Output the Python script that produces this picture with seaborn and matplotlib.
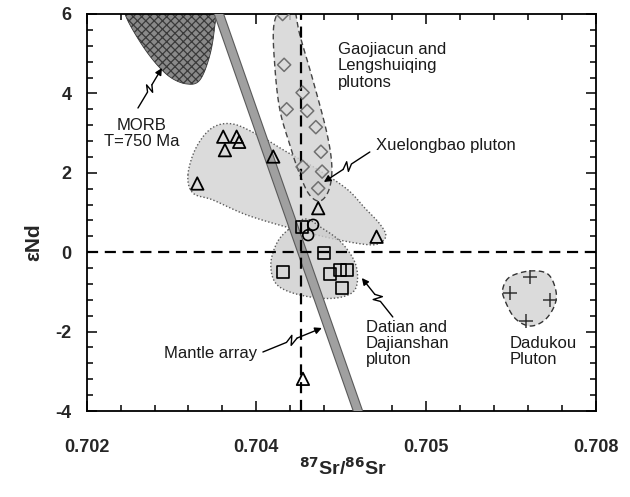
import numpy as np
import pandas as pd
import matplotlib
matplotlib.use("Agg")
import matplotlib.pyplot as plt
import matplotlib.patheffects as pe
from matplotlib.patches import Polygon
from matplotlib.ticker import MultipleLocator
import seaborn as sns

# ---------------- data ----------------
# Gaojiacun and Lengshuiqing plutons (diamonds)
gao_x = [0.704155, 0.704164, 0.704273, 0.704179, 0.704300, 0.704351, 0.704381, 0.704273, 0.704388, 0.704365]
gao_y = [6.00, 4.72, 4.02, 3.60, 3.56, 3.15, 2.53, 2.15, 2.03, 1.61]
# Xuelongbao pluton (triangles)
xue_x = [0.703805, 0.703884, 0.703899, 0.703815, 0.704100, 0.703652, 0.704365, 0.704709, 0.704275]
xue_y = [2.91, 2.91, 2.78, 2.57, 2.41, 1.73, 1.11, 0.39, -3.19]
# circles
cir_x = [0.704335, 0.704306]
cir_y = [0.69, 0.43]
# Datian and Dajianshan pluton (squares)
dat_x = [0.704271, 0.704398, 0.704159, 0.704434, 0.704493, 0.704532, 0.704506]
dat_y = [0.64, -0.01, -0.49, -0.56, -0.45, -0.45, -0.91]
# Dadukou pluton (crosses)
dad_x = [0.705612, 0.705494, 0.705730, 0.705589]
dad_y = [-0.62, -1.02, -1.20, -1.73]

# field outlines (control points)
gao_fx = [0.7041627, 0.7042216, 0.7042569, 0.7043335, 0.704416, 0.7044455, 0.7044278, 0.7043748,
          0.70431, 0.704251, 0.704198, 0.7041391, 0.7041096, 0.7041037]
gao_fy = [6.252, 6.151, 5.471, 4.338, 3.003, 2.146, 1.567, 1.290, 1.466, 2.020, 2.700, 3.582, 4.665, 5.723]
xue_fx = [0.7035969, 0.7036441, 0.7037384, 0.7038621, 0.7040212, 0.7041803, 0.7043571, 0.7045339,
          0.70464, 0.7047284, 0.7047637, 0.7047166, 0.7046223, 0.7044337, 0.704198, 0.7039446,
          0.7037443, 0.7036264]
xue_fy = [1.945, 2.625, 3.128, 3.229, 2.927, 2.524, 2.096, 1.592, 1.113, 0.710, 0.408, 0.207,
          0.207, 0.358, 0.610, 0.937, 1.315, 1.491]
dat_fx = [0.7041862, 0.7042864, 0.7043866, 0.7045044, 0.7045869, 0.7045869, 0.7045044, 0.704363,
          0.704198, 0.7041096, 0.704086, 0.7041214]
dat_fy = [0.559, 0.836, 0.610, 0.232, -0.322, -0.902, -1.128, -1.154, -1.003, -0.751, -0.272, 0.232]
dad_fx = [0.7056123, 0.7057184, 0.7057655, 0.7057596, 0.7057007, 0.7056123, 0.7055239, 0.705465,
          0.7054532, 0.7054944]
dad_fy = [-0.474, -0.549, -0.952, -1.330, -1.708, -1.859, -1.657, -1.204, -0.927, -0.625]
morb_fx = [0.70349, 0.703208, 0.7032257, 0.7032964, 0.7033907, 0.7034909, 0.703591, 0.7036677,
           0.7037266, 0.703756, 0.7037678]
morb_fy = [6.9, 6.5, 6.0, 5.421, 4.841, 4.413, 4.237, 4.338, 4.967, 5.723, 6.5]

mantle_x = [0.703755, 0.704624]
mantle_y = [6.3, -4.3]
bulk_sr = 0.704263
bulk_nd = 0.0

x_ticks = [0.703, 0.704, 0.705, 0.706]
x_ticklabels = ["0.702", "0.704", "0.705", "0.708"]
y_ticks = [-4, -2, 0, 2, 4, 6]
y_ticklabels = ["-4", "-2", "0", "2", "4", "6"]

# ---------------- style ----------------
sns.set_style("ticks")
plt.rcParams["font.family"] = ["Liberation Sans", "DejaVu Sans"]
plt.rcParams["hatch.linewidth"] = 0.9

fig = plt.figure(figsize=(6.3, 4.97), dpi=100)
ax = fig.add_axes([86.7 / 630, 1 - 411 / 497, (595.5 - 86.7) / 630, (411 - 14) / 497])
ax.set_xlim(0.703, 0.706)
ax.set_ylim(-4, 6)


def closed_spline(xs, ys, n=24):
    P = np.column_stack([xs, ys]).astype(float)
    N = len(P)
    t = np.linspace(0, 1, n, endpoint=False)[:, None]
    out = []
    for i in range(N):
        p0, p1, p2, p3 = P[(i - 1) % N], P[i], P[(i + 1) % N], P[(i + 2) % N]
        out.append(0.5 * (2 * p1 + (-p0 + p2) * t + (2 * p0 - 5 * p1 + 4 * p2 - p3) * t ** 2
                          + (-p0 + 3 * p1 - 3 * p2 + p3) * t ** 3))
    return np.vstack(out)


def field(xs, ys, fc, ec, ls, z, alpha=0.8):
    pts = closed_spline(xs, ys)
    ax.add_patch(Polygon(pts, closed=True, facecolor=fc, edgecolor="none", alpha=alpha, zorder=z))
    ax.add_patch(Polygon(pts, closed=True, facecolor="none", edgecolor=ec, lw=1.0, ls=ls, zorder=z + 0.1))


# MORB field (cross-hatched)
morb_pts = closed_spline(morb_fx, morb_fy)
ax.add_patch(Polygon(morb_pts, closed=True, facecolor="#8a8a8a", edgecolor="#3a3a3a",
                     hatch="xxxx", lw=0.6, zorder=1))

field(xue_fx, xue_fy, "#d2d2d2", "#5a5a5a", (0, (1, 1.5)), 1.2)
field(gao_fx, gao_fy, "#d2d2d2", "#444444", (0, (4, 2.5)), 1.4)
field(dat_fx, dat_fy, "#cdcdcd", "#5a5a5a", (0, (1, 1.5)), 1.6)
field(dad_fx, dad_fy, "#d2d2d2", "#333333", (0, (4, 2.5)), 1.6)

# mantle array band
ax.plot(mantle_x, mantle_y, color="#a0a0a0", lw=5.6, solid_capstyle="butt", zorder=3,
        path_effects=[pe.Stroke(linewidth=7.2, foreground="#5a5a5a"), pe.Normal()])

# bulk earth reference lines
ax.axvline(bulk_sr, color="k", lw=1.6, ls=(0, (5, 3)), zorder=4)
ax.axhline(bulk_nd, color="k", lw=1.6, ls=(0, (5, 3)), zorder=4)

# samples
sns.scatterplot(x=gao_x, y=gao_y, marker="D", s=45, facecolors="none", edgecolors="#707070",
                linewidths=1.1, ax=ax, zorder=5)
sns.scatterplot(x=xue_x, y=xue_y, marker="^", s=80, facecolors="none", edgecolors="k",
                linewidths=1.3, ax=ax, zorder=5)
sns.scatterplot(x=cir_x, y=cir_y, marker="o", s=60, facecolors="none", edgecolors="k",
                linewidths=1.2, ax=ax, zorder=5)
sns.scatterplot(x=dat_x, y=dat_y, marker="s", s=75, facecolors="none", edgecolors="k",
                linewidths=1.2, ax=ax, zorder=5)
sns.scatterplot(x=dad_x, y=dad_y, marker="+", s=90, color="#333333",
                linewidths=1.1, ax=ax, zorder=5)


# ---------------- annotations ----------------
def squiggle(start, end, w=4.5):
    T = ax.transData
    s = T.transform(start)
    e = T.transform(end)
    d = e - s
    L = np.hypot(*d)
    u = d / L
    perp = np.array([-u[1], u[0]])
    p1 = s + d * 0.40
    p2 = s + d * 0.52 + perp * w
    p3 = s + d * 0.45 - perp * w
    p4 = s + d * 0.58
    pts = T.inverted().transform(np.array([s, p1, p2, p3, p4]))
    ax.plot(pts[:, 0], pts[:, 1], color="k", lw=1.0, zorder=6)
    ax.annotate("", xy=end, xytext=tuple(pts[-1]),
                arrowprops=dict(arrowstyle="-|>", color="k", lw=1.0, mutation_scale=10,
                                shrinkA=0, shrinkB=0), zorder=6)


squiggle((0.7033023, 3.632), (0.7034437, 4.640))
squiggle((0.7046694, 2.524), (0.7043983, 1.768))
squiggle((0.7048049, -1.632), (0.7046223, -0.650))
squiggle((0.7040389, -2.514), (0.7043866, -1.909))

tkw = dict(fontsize=12, color="#1a1a1a", zorder=7)
ax.text(0.7033259, 2.99, "MORB\nT=750 Ma", ha="center", va="center", linespacing=1.15, **tkw)
ax.text(0.7044808, 5.30, "Gaojiacun and\nLengshuiqing\nplutons", ha="left", va="top",
        linespacing=1.12, **tkw)
ax.text(0.7047048, 2.70, "Xuelongbao pluton", ha="left", va="center", **tkw)
ax.text(0.7046458, -1.70, "Datian and\nDajianshan\npluton", ha="left", va="top",
        linespacing=1.1, **tkw)
ax.text(0.7040035, -2.54, "Mantle array", ha="right", va="center", **tkw)
ax.text(0.7054944, -2.11, "Dadukou\nPluton", ha="left", va="top", linespacing=1.1, **tkw)

# ---------------- axes ----------------
ax.set_xticks(x_ticks)
ax.set_xticklabels(x_ticklabels)
ax.set_yticks(y_ticks)
ax.set_yticklabels(y_ticklabels)
ax.xaxis.set_minor_locator(MultipleLocator(0.0002))
ax.yaxis.set_minor_locator(MultipleLocator(0.4))
ax.tick_params(which="both", direction="in", top=True, right=True, width=1.1, color="k")
ax.tick_params(which="major", length=7)
ax.tick_params(which="minor", length=4)
ax.tick_params(axis="x", which="major", pad=20, labelsize=13)
ax.tick_params(axis="y", which="major", pad=11, labelsize=13)
for lab in ax.get_xticklabels() + ax.get_yticklabels():
    lab.set_fontweight("bold")
for sp in ax.spines.values():
    sp.set_linewidth(1.3)
    sp.set_color("k")

ax.set_xlabel(r"$^{\mathbf{87}}$Sr/$^{\mathbf{86}}$Sr", fontsize=14, fontweight="bold")
ax.xaxis.set_label_coords(0.504, -0.115)
ax.set_ylabel("εNd", fontsize=15, fontweight="bold")
ax.yaxis.set_label_coords(-0.085, 0.425)

fig.savefig("out.png", dpi=100)
